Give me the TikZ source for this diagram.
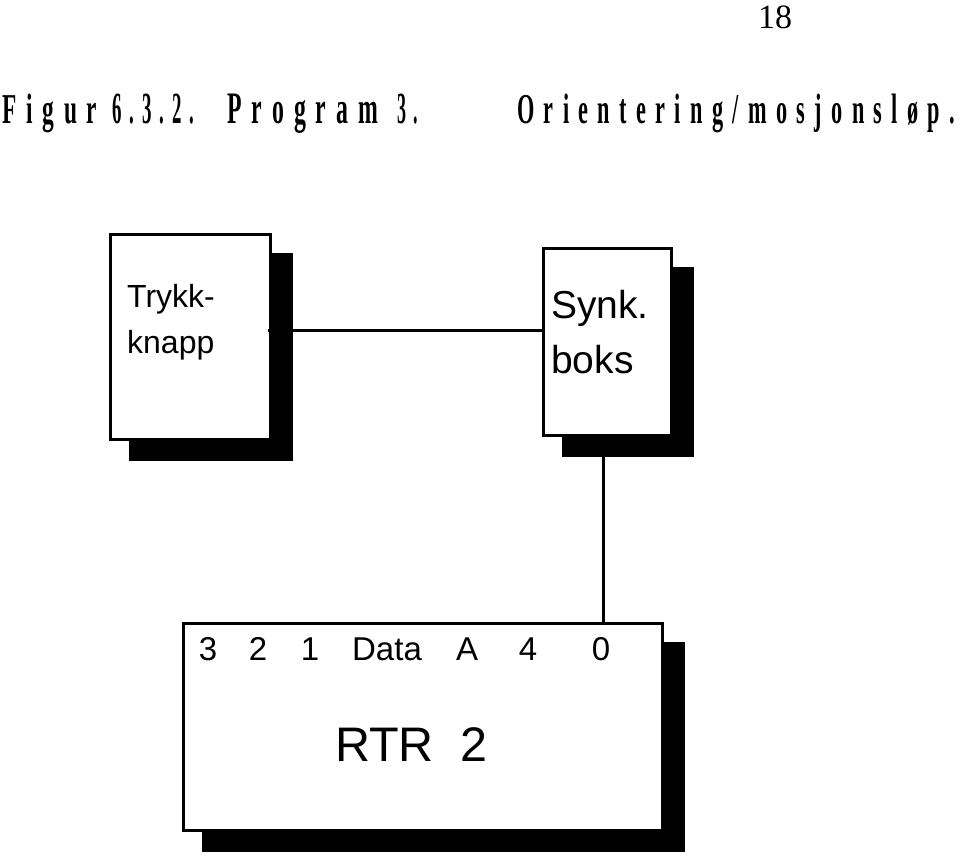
\documentclass[tikz,border=0pt]{standalone}
\usepackage{fontspec}
\setmainfont{Liberation Serif}
\newfontfamily\arialf{Liberation Sans}
\usetikzlibrary{backgrounds}
\def\lspA#1{\ifx#1\relax\unkern\else#1\kern.42em\expandafter\lspA\fi}
\newcommand\lsp[1]{\lspA#1\relax}
\begin{document}
\begin{tikzpicture}[x=1pt,y=-1pt,
  box/.style={draw, line width=3pt, fill=white, rectangle, outer sep=0pt, inner sep=0pt},
  conn/.style={line width=3pt},
  boxtext/.style={anchor=base west, inner sep=0pt},
  rowtext/.style={anchor=base, inner sep=0pt, font=\arialf\fontsize{33}{33}\selectfont},
  ttl/.style={anchor=base west, inner sep=0pt, font=\bfseries},
  shadowfill/.style={fill=black}
]
\useasboundingbox (0,0) rectangle (960,855);
% page number and title
\node[anchor=base, inner sep=0pt, font=\fontsize{34}{34}\selectfont] (pg) at (775,28) {18};
\node[ttl] (t1) at (2,123.5) {\resizebox{95pt}{29.5pt}{\lsp{Figur}}};
\node[ttl] (t2) at (112,123.5) {\resizebox{82pt}{29.5pt}{\lsp{6.3.2.}}};
\node[ttl] (t3) at (227,123.5) {\resizebox{151pt}{29.5pt}{\lsp{Program}}};
\node[ttl] (t4) at (397,123.5) {\resizebox{21pt}{29.5pt}{\lsp{3.}}};
\node[ttl] (t5) at (517,123.5) {\resizebox{438pt}{29.5pt}{\lsp{Orientering/mosjonsløp.}}};
% boxes
\node[box, minimum width=160pt, minimum height=205pt] (trykk) at (190.5,337) {};
\node[box, minimum width=128pt, minimum height=187pt] (synk) at (607.5,342) {};
\node[box, minimum width=479pt, minimum height=207pt] (rtr) at (423,727) {};
\begin{scope}[on background layer]
\foreach \b in {trykk,synk,rtr}
  \fill[shadowfill] ([shift={(18.5pt,-18pt)}]\b.north west) rectangle ([shift={(22.5pt,-21.5pt)}]\b.south east);
\end{scope}
% box texts
\node[boxtext, font=\arialf\fontsize{32}{32}\selectfont] (tk1) at (127,307) {Trykk-};
\node[boxtext, font=\arialf\fontsize{32}{32}\selectfont] (tk2) at (127,353) {knapp};
\node[boxtext, font=\arialf\fontsize{39}{39}\selectfont] (sb1) at (551,318) {Synk.};
\node[boxtext, font=\arialf\fontsize{39}{39}\selectfont] (sb2) at (551,373) {boks};
\node[rowtext] (r3) at (208,660) {3};
\node[rowtext] (r2) at (258,660) {2};
\node[rowtext] (r1) at (310,660) {1};
\node[rowtext] (rd) at (387,660) {Data};
\node[rowtext] (ra) at (467,660) {A};
\node[rowtext] (r4) at (528,660) {4};
\node[rowtext] (r0) at (601,660) {0};
\node[boxtext, font=\arialf\fontsize{48.5}{48.5}\selectfont] (rtrlbl) at (335,761) {RTR\hspace{0.55em}2};
% connectors
\coordinate (c1) at ([xshift=-3pt]trykk.east);
\coordinate (ly) at (0,330);
\coordinate (vx) at (603,0);
\draw[conn] (c1 |- ly) -- (synk.west |- ly);
\draw[conn] (synk.south -| vx) -- (rtr.north -| vx);
\end{tikzpicture}
\end{document}
